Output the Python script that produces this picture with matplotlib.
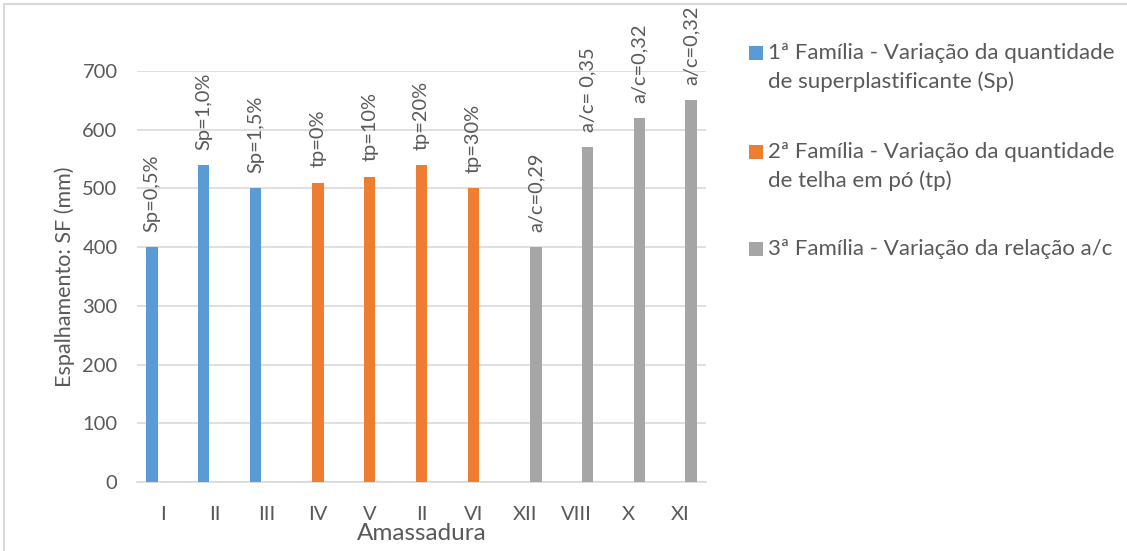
import numpy as np
import matplotlib.pyplot as plt
from matplotlib.patches import Rectangle

# ==============================
# Data
# ==============================

categories = ["I", "II", "III", "IV", "V", "II", "VI", "XII", "VIII", "X", "XI"]

sp_values = [400, 540, 500, None, None, None, None, None, None, None, None]
tp_values = [None, None, None, 510, 520, 540, 500, None, None, None, None]
ac_values = [None, None, None, None, None, None, None, 400, 570, 620, 650]

point_labels = ["Sp=0,5%", "Sp=1,0%", "Sp=1,5%",
                "tp=0%", "tp=10%", "tp=20%", "tp=30%",
                "a/c=0,29", "a/c= 0,35", "a/c=0,32", "a/c=0,32"]

series_names = [
    "1ª Família - Variação da quantidade\nde superplastificante (Sp)",
    "2ª Família - Variação da quantidade\nde telha em pó (tp)",
    "3ª Família - Variação da relação a/c",
]

COLORS = ["#5B9BD5", "#ED7D31", "#A5A5A5"]
TEXT = "#595959"
GRID = "#D9D9D9"
FONT = "Lato"

plt.rcParams["font.family"] = [FONT, "DejaVu Sans"]

W, H = 1127, 551
fig = plt.figure(figsize=(W / 100, H / 100), dpi=100)
ax = fig.add_axes([137 / W, 1 - 482 / H, 569 / W, 411 / H])

x = np.arange(len(categories))
width = 0.22
offsets = [-0.21, 0.0, 0.21]
all_series = [sp_values, tp_values, ac_values]

for vals, off, color in zip(all_series, offsets, COLORS):
    v = np.array([np.nan if a is None else a for a in vals], dtype=float)
    ax.bar(x + off, v, width=width, color=color, zorder=3)
    for xi, yi in zip(x, v):
        if np.isnan(yi):
            continue
        ax.annotate(point_labels[xi], (xi + off, yi), xytext=(0, 11),
                    textcoords="offset points", rotation=90,
                    ha="center", va="bottom", fontsize=14.4, color=TEXT,
                    annotation_clip=False)

ax.set_xlim(-0.5, len(categories) - 0.5)
ax.set_ylim(0, 700)
ax.set_yticks(np.arange(0, 701, 100))
ax.set_xticks(x)
ax.set_xticklabels(categories)
ax.tick_params(axis="both", length=0, labelsize=14.5, labelcolor=TEXT)
ax.tick_params(axis="y", pad=14)
ax.tick_params(axis="x", pad=17)
ax.grid(axis="y", color=GRID, linewidth=1.2, zorder=0)
for s in ["top", "right", "left"]:
    ax.spines[s].set_visible(False)
ax.spines["bottom"].set_color(GRID)
ax.spines["bottom"].set_linewidth(1.2)

ax.set_xlabel("Amassadura", fontsize=17.5, color=TEXT, labelpad=0)
ax.set_ylabel("Espalhamento: SF (mm)", fontsize=15.5, color=TEXT, labelpad=5)

# legend drawn by hand (Excel puts the key next to the first line)
legend_rows = [53, 152, 249]
for name, color, yline in zip(series_names, COLORS, legend_rows):
    fig.patches.append(Rectangle((749 / W, 1 - (yline + 7) / H), 14 / W, 14 / H,
                                 transform=fig.transFigure, facecolor=color,
                                 edgecolor="none"))
    for k, line in enumerate(name.split("\n")):
        fig.text(768 / W, 1 - (yline + 28.5 * k) / H, line, fontsize=16,
                 color=TEXT, ha="left", va="center")

# chart area border (only top/left visible in the crop)
fig.patches.append(Rectangle((4 / W, -0.05), 1.2, 1 - 4 / H + 0.05,
                             transform=fig.transFigure, facecolor="none",
                             edgecolor=GRID, linewidth=1.5))

fig.savefig("out.png", dpi=100)
